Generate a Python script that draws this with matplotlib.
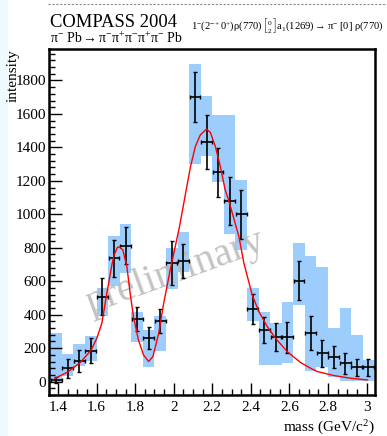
import numpy as np
import matplotlib.pyplot as plt
from matplotlib.ticker import MultipleLocator, FuncFormatter
from matplotlib.lines import Line2D
from matplotlib.patches import Rectangle

plt.rcParams['font.family'] = ['Liberation Serif', 'DejaVu Serif']
plt.rcParams['mathtext.fontset'] = 'custom'
plt.rcParams['mathtext.rm'] = 'Liberation Serif'
plt.rcParams['mathtext.it'] = 'Liberation Serif:italic'
plt.rcParams['mathtext.bf'] = 'Liberation Serif:bold'

# data points (bin centres, GeV/c^2)
mass = [1.39, 1.45, 1.51, 1.57, 1.63, 1.69, 1.75, 1.81, 1.87, 1.93, 1.99, 2.05, 2.11, 2.17,
        2.23, 2.29, 2.35, 2.41, 2.47, 2.53, 2.59, 2.65, 2.71, 2.77, 2.83, 2.89, 2.95, 3.01]
intensity = [10, 80, 125, 185, 508, 737, 813, 373, 259, 363, 708, 721, 1700, 1432,
             1250, 1080, 1000, 433, 307, 265, 264, 604, 289, 170, 146, 110, 86, 86]
stat_err = [18, 57, 65, 75, 110, 110, 110, 73, 67, 73, 132, 103, 148, 160,
            148, 144, 146, 90, 78, 85, 95, 115, 102, 80, 67, 62, 52, 52]
# systematic band (light blue boxes)
sys_lo = [0, 35, 96, 125, 395, 572, 652, 239, 86, 185, 552, 657, 1299, 1349,
          1195, 883, 787, 360, 100, 100, 112, 458, 66, 90, 30, 6, 6, 6]
sys_hi = [290, 166, 225, 273, 558, 871, 941, 418, 309, 393, 800, 897, 1899, 1708,
          1594, 1594, 1206, 562, 418, 350, 478, 827, 751, 687, 319, 442, 279, 130]

# fit curve
fit_mass = [1.384, 1.448, 1.511, 1.570, 1.601, 1.627, 1.653, 1.679, 1.691, 1.708, 1.719,
            1.736, 1.757, 1.774, 1.791, 1.817, 1.843, 1.870, 1.892, 1.922, 1.948, 1.982,
            2.030, 2.066, 2.087, 2.112, 2.138, 2.170, 2.190, 2.216, 2.242, 2.266, 2.286,
            2.338, 2.364, 2.407, 2.442, 2.485, 2.528, 2.589, 2.658, 2.710, 2.745, 2.832,
            2.918, 3.005]
fit_val = [20, 56, 110, 185, 259, 349, 528, 697, 757, 803, 805,
           787, 687, 528, 389, 249, 160, 120, 150, 289, 469, 668,
           927, 1155, 1285, 1405, 1475, 1509, 1489, 1405, 1285, 1150, 1080,
           867, 708, 518, 418, 329, 259, 179, 114, 80, 60, 36,
           20, 10]

fig = plt.figure(figsize=(3.87, 4.36), dpi=100)
fig.patches.append(Rectangle((0, 0), 7 / 387, 1, transform=fig.transFigure,
                             color='#eefaff', zorder=0))
fig.lines.append(Line2D([48 / 387, 1], [1 - 4 / 436, 1 - 4 / 436], transform=fig.transFigure,
                        color='#888888', lw=0.8, ls=(0, (2, 1.5))))

ax = fig.add_axes([49 / 387, 1 - 395 / 436, 326 / 387, 346 / 436])

ax.bar(mass, np.array(sys_hi) - np.array(sys_lo), bottom=sys_lo, width=0.06,
       color='#9dcdfc', linewidth=0, zorder=1)
ax.text(2.01, 655, 'preliminary', rotation=20, fontsize=29, color='#b8b8b8', alpha=0.85,
        ha='center', va='center', zorder=3)
ax.errorbar(mass, intensity, yerr=stat_err, xerr=0.028, fmt='none', ecolor='black',
            elinewidth=1.2, capsize=1.5, capthick=1.0, zorder=4)
ax.plot(fit_mass, fit_val, color='red', lw=1.0, zorder=5)

ax.set_xlim(1.353, 3.044)
ax.set_ylim(-80, 1988)
ax.xaxis.set_major_locator(MultipleLocator(0.2))
ax.xaxis.set_minor_locator(MultipleLocator(0.05))
ax.yaxis.set_major_locator(MultipleLocator(200))
ax.yaxis.set_minor_locator(MultipleLocator(40))
ax.xaxis.set_major_formatter(FuncFormatter(lambda v, p: '%g' % round(v, 2)))
ax.tick_params(which='both', direction='in', top=False, right=False, width=1.0, labelsize=11)
ax.tick_params(which='major', length=9)
ax.tick_params(which='minor', length=4.5)
ax.tick_params(axis='y', pad=2)
ax.tick_params(axis='x', pad=4)
for s in ax.spines.values():
    s.set_linewidth(1.8)

fig.text(13 / 387, 1 - 49 / 436, 'intensity', rotation=90, ha='center', va='top', fontsize=11)
fig.text(375 / 387, 1 - 428 / 436, 'mass (GeV/c$^{2}$)', ha='right', va='center', fontsize=11)
fig.text(50 / 387, 1 - 27 / 436, 'COMPASS 2004', fontsize=13.4, va='baseline')
fig.text(50 / 387, 1 - 43 / 436, r'$\mathrm{\pi^{-}\ Pb \rightarrow \pi^{-}\pi^{+}\pi^{-}\pi^{+}\pi^{-}\ Pb}$',
         fontsize=10, va='baseline')
fig.text(383 / 387, 1 - 30 / 436,
         r'$\mathrm{1^{-}(2^{-+}0^{+})\rho(770)\,\genfrac{[}{]}{0}{}{0}{2}a_{1}(1269) \rightarrow \pi^{-}\ [0]\ \rho(770)}$',
         fontsize=7.6, va='baseline', ha='right')

fig.savefig('out.png', dpi=100)
